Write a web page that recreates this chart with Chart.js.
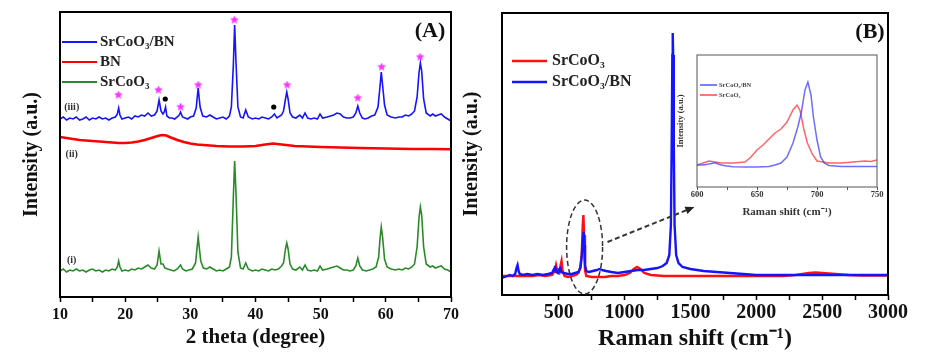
<!DOCTYPE html>
<html>
<head>
<meta charset="utf-8">
<script src="https://cdn.jsdelivr.net/npm/chart.js@4.4.0/dist/chart.umd.min.js"></script>
<style>
  html, body { margin: 0; padding: 0; background: #fff; }
  #wrap { position: relative; width: 938px; height: 362px; overflow: hidden; }
  canvas { position: absolute; }
  #cA { left: 0; top: 0; }
  #cB { left: 460px; top: 0; }
  #cI { left: 665px; top: 50px; }
</style>
</head>
<body>
<div id="wrap">
  <canvas id="cA" width="470" height="362"></canvas>
  <canvas id="cB" width="478" height="362"></canvas>
  <canvas id="cI" width="222" height="175"></canvas>
</div>
<script>
/* ── Data: XRD (A) ─────────────────────────── */
const xrdNames = ['SrCoO₃/BN', 'BN', 'SrCoO₃'];
const xrdBlue = [
  [10,178],[10.5,180],[11,177],[11.5,179],[12,178],[12.5,180],[13,177],[13.5,178],[14,180],[14.5,177],
  [15,179],[15.5,178],[16,180],[16.5,178],[17,179],[17.5,177],[18,179],[18.5,180],[18.8,183],[19,189],
  [19.2,182],[19.5,178],[20,179],[20.5,180],[21,178],[21.5,181],[22,180],[22.5,182],[23,181],[23.5,184],
  [24,181],[24.5,182],[24.9,186],[25.2,197],[25.5,186],[25.8,183],[26,185],[26.2,190],[26.4,181],[26.8,179],
  [27.2,179],[27.6,178],[28,180],[28.3,182],[28.5,185],[28.8,180],[29.2,179],[29.6,178],[30,180],[30.5,181],
  [30.9,189],[31.2,209],[31.5,190],[31.9,181],[32.5,180],[33,182],[33.5,180],[34,178],[34.5,179],[35,180],
  [35.5,178],[36,181],[36.3,190],[36.6,232],[36.8,272],[37,236],[37.3,190],[37.7,180],[38.1,179],[38.5,187],
  [38.9,180],[39.5,178],[40,179],[40.5,178],[41,180],[41.5,179],[42,178],[42.5,180],[42.9,183],[43.3,179],
  [44,182],[44.3,186],[44.6,198],[44.8,205],[45,198],[45.3,184],[45.7,180],[46.2,179],[46.8,182],[47.2,179],
  [47.6,184],[48,179],[48.5,178],[49,179],[49.5,178],[49.9,183],[50.3,179],[51,180],[51.5,181],[52,182],
  [52.5,184],[53,183],[53.5,180],[54,179],[54.5,179],[55,180],[55.4,184],[55.7,191],[56,184],[56.4,179],
  [56.8,178],[57.3,179],[57.8,181],[58.3,182],[58.8,190],[59.1,210],[59.3,225],[59.5,212],[59.8,192],[60.2,182],
  [60.8,180],[61.5,179],[62,180],[62.5,180],[63,182],[63.5,181],[64,183],[64.4,186],[64.8,200],[65.1,225],
  [65.3,234],[65.5,226],[65.8,198],[66.2,184],[66.8,181],[67.2,183],[67.6,181],[68,182],[68.5,183],[69,180],
  [69.5,178],[70,176]
];
const xrdRed = [
  [10,160],[10.5,159.5],[11,159],[12,158],[13,157],[14,156.5],[15,156],[16,155.5],[17,155],[18,154.5],
  [19,154],[20,154],[21,154.5],[22,155.5],[23,157],[24,159],[25,161],[25.6,162],[26.3,161.5],[27,159.5],
  [28,157],[29,155],[30,153.5],[31,152.5],[32,152],[34,151],[36,150.5],[38,150.5],[40,151],[41.5,152.5],
  [42.7,153.5],[44,152.5],[46,151],[48,150.5],[50,150],[53,149.5],[56,149],[60,148.5],[64,148],[67,148],
  [70,147.7]
];
const xrdGreen = [
  [10,26],[10.5,28],[11,25],[11.5,27],[12,26],[12.5,28],[13,26],[13.5,27],[14,25],[14.5,27],
  [15,28],[15.5,26],[16,27],[16.5,25],[17,27],[17.5,26],[18,28],[18.5,27],[18.8,30],[19,36],
  [19.2,30],[19.5,26],[20,27],[20.5,26],[21,28],[21.5,27],[22,29],[22.5,28],[23,30],[23.5,32],
  [24,29],[24.5,28],[24.9,32],[25.2,46],[25.5,33],[25.8,33],[26.1,29],[26.5,28],[27,27],[27.5,26],
  [28,28],[28.5,32],[28.8,28],[29.3,26],[29.8,27],[30.3,28],[30.8,34],[31.2,60],[31.6,36],[32,29],
  [32.5,28],[33,30],[33.5,28],[34,26],[34.5,27],[35,26],[35.5,28],[36,30],[36.3,40],[36.6,100],
  [36.8,136],[37,105],[37.3,45],[37.7,29],[38.1,28],[38.5,34],[38.9,28],[39.5,26],[40,27],[40.5,26],
  [41,28],[41.5,27],[42,26],[42.5,28],[43,27],[43.5,28],[44,31],[44.3,34],[44.6,48],[44.8,54],
  [45,48],[45.3,33],[45.7,28],[46.2,27],[46.8,30],[47.2,27],[47.6,32],[48,27],[48.5,26],[49,27],
  [49.5,26],[49.9,31],[50.3,27],[51,28],[51.5,29],[52,30],[52.5,31],[53,29],[53.5,27],[54,27],
  [54.5,26],[55,27],[55.4,31],[55.7,39],[56,31],[56.4,27],[57,26],[57.5,27],[58,28],[58.5,30],
  [58.9,40],[59.1,58],[59.3,70],[59.5,60],[59.8,38],[60.2,30],[60.8,28],[61.5,27],[62,28],[62.5,27],
  [63,29],[63.5,28],[64,30],[64.4,33],[64.8,50],[65.1,80],[65.3,90],[65.5,82],[65.8,50],[66.2,33],
  [66.8,30],[67.2,31],[67.6,29],[68,30],[68.5,31],[69,28],[69.5,27],[70,25]
];
const xrdStars = [[18.95,202],[25.1,207],[28.5,190],[31.2,212],[36.75,277],[44.85,212],[55.7,199],[59.35,230],[65.25,240]];
const xrdDots = [[26.15,198],[42.8,190]];
const xrdTags = [['(iii)', 11.8, 190], ['(ii)', 11.8, 143], ['(i)', 11.8, 37]];

/* ── Data: Raman (B) ───────────────────────── */
const ramanNames = ['SrCoO₃', 'SrCoO₃/BN'];
const ramanBlue = [
  [70,17],[90,18],[110,19],[130,20],[150,19],[170,21],[180,27],[188,30],[196,24],[205,21],
  [230,20],[260,21],[300,20],[340,21],[380,20],[420,21],[450,22],[465,26],[472,29],[480,23],
  [495,22],[505,26],[512,27],[520,23],[540,22],[570,21],[600,21],[625,22],[650,23],[665,27],
  [675,38],[683,55],[690,63],[695,50],[700,30],[710,24],[730,23],[760,24],[790,25],[810,26],
  [830,25],[860,24],[900,23],[950,22],[1000,23],[1050,24],[1100,25],[1150,25],[1200,26],[1250,27],
  [1290,29],[1320,32],[1340,40],[1352,70],[1358,150],[1363,240],[1366,262],[1369,240],[1374,150],[1380,70],
  [1392,40],[1410,32],[1440,28],[1500,26],[1600,24],[1700,23],[1800,22],[1900,21],[2000,20],[2200,20],
  [2400,20],[2600,20],[2800,20],[3000,20]
];
const ramanRed = [
  [70,19],[100,19],[150,19],[200,19],[250,19],[300,19],[350,20],[400,19],[450,20],[470,24],
  [480,30],[490,24],[505,22],[515,30],[522,34],[530,24],[545,19],[570,18],[600,19],[630,20],
  [650,22],[665,28],[675,40],[683,70],[688,80],[693,60],[700,25],[710,19],[750,18],[800,18],
  [850,18],[900,19],[950,19],[1000,20],[1040,22],[1070,26],[1095,28],[1120,26],[1150,22],[1200,20],
  [1300,19],[1400,19],[1600,19],[1800,19],[2000,19],[2200,19],[2300,20],[2400,22],[2450,22.5],[2500,22],
  [2600,21],[2700,20],[2800,19.5],[3000,19.5]
];

/* ── Data: inset ───────────────────────────── */
const insetNames = ['SrCoO₃/BN', 'SrCoO₃'];
const insetBlue = [
  [600,22],[605,22],[610,23],[615,24.3],[620,22],[625,21],[630,20.3],[640,20],[650,20],[660,20.5],
  [665,22],[670,24],[675,30],[680,44],[684,60],[687,75],[690,97],[692.4,105],[695,92],[697,70],
  [700,47],[703,30],[706,24],[710,21.5],[720,20.5],[730,20.5],[740,20.5],[750,20.5]
];
const insetRed = [
  [600,22],[605,24],[610,26],[615,25],[620,24],[630,24],[640,25],[645,30],[650,37],[655,42],
  [660,48],[665,54],[670,58],[675,65],[680,77],[683.4,82],[686,76],[689,58],[692,44],[696,33],
  [700,26],[705,25],[710,24],[720,24],[730,25],[740,26],[745,25.5],[750,27]
];

/* ── Helpers ───────────────────────────────── */
const serif = "'Liberation Serif', 'Times New Roman', serif";
const ink = '#111';

function starImage(size, color) {
  const c = document.createElement('canvas');
  c.width = size; c.height = size;
  const g = c.getContext('2d');
  const R = size / 2, r = R * 0.45;
  g.beginPath();
  for (let i = 0; i < 10; i++) {
    const a = -Math.PI / 2 + i * Math.PI / 5;
    const rr = i % 2 ? r : R;
    g.lineTo(R + rr * Math.cos(a), R + rr * Math.sin(a));
  }
  g.closePath();
  g.fillStyle = color;
  g.fill();
  return c;
}

// box round the plot area
const frame = {
  id: 'frame',
  afterDatasetsDraw(chart, args, opts) {
    const { ctx, chartArea: a } = chart;
    ctx.save();
    ctx.strokeStyle = opts.color;
    ctx.lineWidth = opts.width;
    ctx.strokeRect(a.left, a.top, a.right - a.left, a.bottom - a.top);
    ctx.restore();
  }
};

// line-sample legend, labels read from the datasets
const lineLegend = {
  id: 'lineLegend',
  afterDraw(chart, args, opts) {
    const ctx = chart.ctx;
    ctx.save();
    ctx.font = opts.font;
    ctx.textBaseline = 'middle';
    opts.order.forEach((idx, i) => {
      const ds = chart.data.datasets[idx];
      const y = opts.y + i * opts.gap;
      ctx.strokeStyle = ds.borderColor;
      ctx.lineWidth = opts.lineWidth;
      ctx.beginPath();
      ctx.moveTo(opts.x, y);
      ctx.lineTo(opts.x + opts.len, y);
      ctx.stroke();
      ctx.fillStyle = opts.textColor;
      ctx.fillText(ds.label, opts.x + opts.len + opts.space, y);
    });
    ctx.restore();
  }
};

const tagsA = {
  id: 'tagsA',
  afterDraw(chart) {
    const { ctx, scales: { x, y }, chartArea: a } = chart;
    ctx.save();
    ctx.textAlign = 'center';
    ctx.textBaseline = 'middle';
    ctx.fillStyle = '#333';
    ctx.font = `bold 10px ${serif}`;
    xrdTags.forEach(t => ctx.fillText(t[0], x.getPixelForValue(t[1]), y.getPixelForValue(t[2])));
    ctx.fillStyle = ink;
    ctx.font = `bold 22px ${serif}`;
    ctx.fillText('(A)', a.right - 21, a.top + 19);
    ctx.restore();
  }
};

const marksB = {
  id: 'marksB',
  afterDraw(chart) {
    const { ctx, scales: { x, y }, chartArea: a } = chart;
    ctx.save();
    ctx.strokeStyle = '#333';
    ctx.setLineDash([5, 3]);
    ctx.lineWidth = 1.5;
    ctx.beginPath();
    ctx.ellipse(x.getPixelForValue(697), y.getPixelForValue(48), 18, 47, 0, 0, 2 * Math.PI);
    ctx.stroke();
    const x0 = x.getPixelForValue(871), y0 = y.getPixelForValue(53);
    const x1 = x.getPixelForValue(1530), y1 = y.getPixelForValue(88);
    const ang = Math.atan2(y1 - y0, x1 - x0);
    const bx = x1 - 9 * Math.cos(ang), by = y1 - 9 * Math.sin(ang);
    ctx.lineWidth = 2;
    ctx.beginPath();
    ctx.moveTo(x0, y0);
    ctx.lineTo(bx, by);
    ctx.stroke();
    ctx.setLineDash([]);
    ctx.fillStyle = '#222';
    ctx.beginPath();
    ctx.moveTo(x1, y1);
    ctx.lineTo(bx + 4 * Math.sin(ang), by - 4 * Math.cos(ang));
    ctx.lineTo(bx - 4 * Math.sin(ang), by + 4 * Math.cos(ang));
    ctx.closePath();
    ctx.fill();
    ctx.fillStyle = ink;
    ctx.textAlign = 'center';
    ctx.textBaseline = 'middle';
    ctx.font = `bold 22px ${serif}`;
    ctx.fillText('(B)', a.right - 18, a.top + 19);
    ctx.restore();
  }
};

function tickGrid(len) {
  return { display: true, drawOnChartArea: false, drawTicks: true, tickLength: len, tickColor: '#000', tickWidth: 1.5 };
}
const noGrid = { display: false };
const noBorder = { display: false };
const base = { responsive: false, animation: false, events: [] };

Chart.defaults.font.family = serif;

/* ── Chart A: XRD ──────────────────────────── */
new Chart(document.getElementById('cA'), {
  type: 'line',
  data: {
    datasets: [
      { label: xrdNames[0], data: xrdBlue, borderColor: '#1414ff', borderWidth: 1.6, pointRadius: 0 },
      { label: xrdNames[1], data: xrdRed, borderColor: '#ff0000', borderWidth: 2.6, pointRadius: 0 },
      { label: xrdNames[2], data: xrdGreen, borderColor: '#2a8a2a', borderWidth: 1.6, pointRadius: 0 },
      { label: 'star', data: xrdStars, showLine: false, pointStyle: starImage(9, '#ff33ff'), pointRadius: 4 },
      { label: 'dot', data: xrdDots, showLine: false, pointStyle: 'circle', pointRadius: 2.6,
        backgroundColor: '#000', borderColor: '#000', borderWidth: 0 }
    ]
  },
  options: {
    ...base,
    layout: { padding: { left: 0, top: 12, right: 19, bottom: 0 } },
    plugins: {
      legend: { display: false },
      tooltip: { enabled: false },
      frame: { color: '#000', width: 2 },
      lineLegend: { order: [0, 1, 2], x: 62, y: 42, gap: 20, len: 35, space: 3, lineWidth: 2.2,
        font: `bold 15px ${serif}`, textColor: '#222' }
    },
    scales: {
      x: {
        type: 'linear', min: 10, max: 70,
        afterFit: s => { s.height = 65; },
        ticks: { stepSize: 5, autoSkip: false, maxRotation: 0, padding: 3, color: ink,
          font: { size: 16, weight: 'bold' }, callback: v => (v % 10 === 0 ? v : '') },
        grid: tickGrid(5),
        border: noBorder,
        title: { display: true, text: '2 theta (degree)', color: ink,
          font: { size: 21, weight: 'bold' }, padding: { top: 0, bottom: 12 } }
      },
      y: {
        min: 0, max: 285,
        afterFit: s => { s.width = 60; },
        ticks: { display: false },
        grid: noGrid,
        border: noBorder,
        title: { display: true, text: 'Intensity (a.u.)', color: ink,
          font: { size: 20, weight: 'bold' }, padding: { top: 20, bottom: 0 } }
      }
    }
  },
  plugins: [frame, lineLegend, tagsA]
});

/* ── Chart B: Raman ────────────────────────── */
new Chart(document.getElementById('cB'), {
  type: 'line',
  data: {
    datasets: [
      { label: ramanNames[1], data: ramanBlue, borderColor: '#1414ff', borderWidth: 2.4, pointRadius: 0 },
      { label: ramanNames[0], data: ramanRed, borderColor: '#ff1010', borderWidth: 2.4, pointRadius: 0 }
    ]
  },
  options: {
    ...base,
    layout: { padding: { left: 0, top: 13, right: 50, bottom: 0 } },
    plugins: {
      legend: { display: false },
      tooltip: { enabled: false },
      frame: { color: '#000', width: 2 },
      lineLegend: { order: [1, 0], x: 52, y: 61, gap: 21, len: 35, space: 5, lineWidth: 2.6,
        font: `bold 16px ${serif}`, textColor: '#222' }
    },
    scales: {
      x: {
        type: 'linear', min: 70, max: 3000,
        afterFit: s => { s.height = 67; },
        afterBuildTicks: s => { s.ticks = s.ticks.filter(t => t.value % 250 === 0); },
        ticks: { stepSize: 250, autoSkip: false, maxRotation: 0, padding: 1, color: ink,
          font: { size: 20, weight: 'bold' }, callback: v => (v % 500 === 0 ? v : '') },
        grid: tickGrid(5),
        border: noBorder,
        title: { display: true, text: 'Raman shift (cm⁻¹)', color: ink,
          font: { size: 24, weight: 'bold' }, padding: { top: 0, bottom: 9 } }
      },
      y: {
        min: 0, max: 282,
        afterFit: s => { s.width = 42; },
        ticks: { display: false },
        grid: noGrid,
        border: noBorder,
        title: { display: true, text: 'Intensity (a.u.)', color: ink,
          font: { size: 20, weight: 'bold' }, padding: { top: 0, bottom: 0 } }
      }
    }
  },
  plugins: [frame, lineLegend, marksB]
});

/* ── Inset: zoom on the 690 cm-1 band ──────── */
new Chart(document.getElementById('cI'), {
  type: 'line',
  data: {
    datasets: [
      { label: insetNames[0], data: insetBlue, borderColor: 'rgba(60,60,255,0.75)', borderWidth: 1.5, pointRadius: 0 },
      { label: insetNames[1], data: insetRed, borderColor: 'rgba(255,50,50,0.75)', borderWidth: 1.5, pointRadius: 0 }
    ]
  },
  options: {
    ...base,
    layout: { padding: { left: 0, top: 5, right: 10, bottom: 0 } },
    plugins: {
      legend: { display: false },
      tooltip: { enabled: false },
      frame: { color: '#555', width: 1 },
      lineLegend: { order: [0, 1], x: 35, y: 35, gap: 10, len: 17, space: 2, lineWidth: 1.8,
        font: `bold 6.5px ${serif}`, textColor: '#444' }
    },
    scales: {
      x: {
        type: 'linear', min: 600, max: 750,
        afterFit: s => { s.height = 38; },
        ticks: { stepSize: 25, autoSkip: false, maxRotation: 0, padding: 0, color: '#333',
          font: { size: 8.5, weight: 'bold' }, callback: v => (v % 50 === 0 ? v : '') },
        grid: { display: true, drawOnChartArea: false, drawTicks: true, tickLength: 3, tickColor: '#555', tickWidth: 1 },
        border: noBorder,
        title: { display: true, text: 'Raman shift (cm⁻¹)', color: '#333',
          font: { size: 11, weight: 'bold' }, padding: { top: 0, bottom: 6 } }
      },
      y: {
        min: 0, max: 132,
        afterFit: s => { s.width = 32; },
        ticks: { display: false },
        grid: noGrid,
        border: noBorder,
        title: { display: true, text: 'Intensity (a.u.)', color: '#333',
          font: { size: 8.5, weight: 'bold' }, padding: { top: 11, bottom: 0 } }
      }
    }
  },
  plugins: [frame, lineLegend]
});
</script>
</body>
</html>
